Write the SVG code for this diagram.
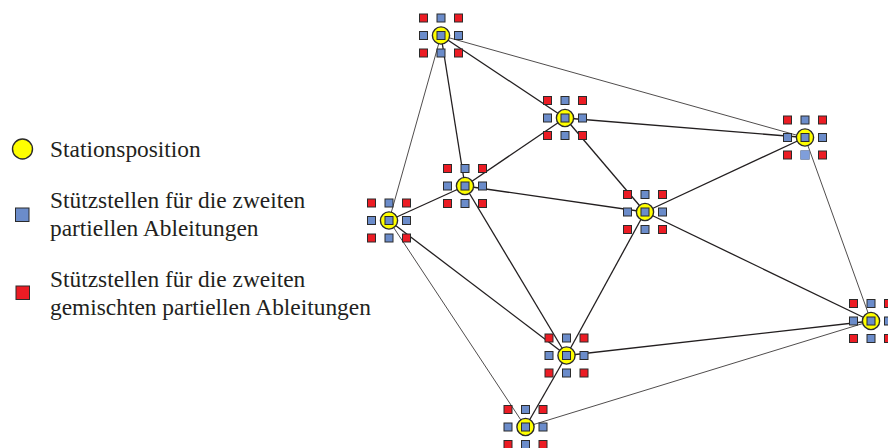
<svg xmlns="http://www.w3.org/2000/svg" xmlns:xlink="http://www.w3.org/1999/xlink" width="888" height="448" viewBox="0 0 888 448">
<style>
  .lbl { font-family: "Liberation Serif", "DejaVu Serif", serif; font-size: 23.4px; fill: #231f20; }
  .e { stroke: #231f20; stroke-width: 1.3; fill: none; }
  .t { stroke: #231f20; stroke-width: 0.8; fill: none; }
  .blue { fill: #6b8cca; stroke: #2b2b2b; stroke-width: 1; }
  .red { fill: #ec1c24; stroke: #2b2b2b; stroke-width: 1; }
  .stn { fill: #ffff00; stroke: #2b2b2b; stroke-width: 1.4; }
</style>
<defs>
  <g id="station">
    <rect class="red" x="-21.5" y="-21.5" width="8" height="8"/>
    <rect class="red" x="13.5" y="-21.5" width="8" height="8"/>
    <rect class="red" x="-21.5" y="13.5" width="8" height="8"/>
    <rect class="red" x="13.5" y="13.5" width="8" height="8"/>
    <rect class="blue" x="-4" y="-21.5" width="8" height="8"/>
    <rect class="blue" x="-21.5" y="-4" width="8" height="8"/>
    <rect class="blue" x="13.5" y="-4" width="8" height="8"/>
    <rect class="blue" x="-4" y="13.5" width="8" height="8"/>
    <circle class="stn" cx="0" cy="0" r="8.6"/>
    <rect class="blue" x="-4" y="-4" width="8" height="8"/>
  </g>
</defs>
<rect width="888" height="448" fill="#ffffff"/>
<g id="connectors">
  <line class="e" x1="441" y1="35.5" x2="565" y2="118"/>
  <line class="t" x1="441" y1="35.5" x2="805" y2="137.5"/>
  <line class="e" x1="441" y1="35.5" x2="465" y2="186"/>
  <line class="t" x1="441" y1="35.5" x2="389" y2="220.5"/>
  <line class="e" x1="565" y1="118" x2="805" y2="137.5"/>
  <line class="e" x1="565" y1="118" x2="465" y2="186"/>
  <line class="e" x1="565" y1="118" x2="645" y2="212"/>
  <line class="e" x1="805" y1="137.5" x2="645" y2="212"/>
  <line class="t" x1="805" y1="137.5" x2="871" y2="321"/>
  <line class="e" x1="465" y1="186" x2="645" y2="212"/>
  <line class="e" x1="465" y1="186" x2="389" y2="220.5"/>
  <line class="e" x1="465" y1="186" x2="566.5" y2="355.5"/>
  <line class="e" x1="645" y1="212" x2="871" y2="321"/>
  <line class="e" x1="645" y1="212" x2="566.5" y2="355.5"/>
  <line class="e" x1="389" y1="220.5" x2="566.5" y2="355.5"/>
  <line class="t" x1="389" y1="220.5" x2="525.5" y2="427"/>
  <line class="e" x1="566.5" y1="355.5" x2="871" y2="321"/>
  <line class="e" x1="566.5" y1="355.5" x2="525.5" y2="427"/>
  <line class="t" x1="525.5" y1="427" x2="871" y2="321"/>
</g>
<g id="n1"><use xlink:href="#station" x="441" y="35.5"/></g>
<g id="n2"><use xlink:href="#station" x="565" y="118"/></g>
<g id="n3"><use xlink:href="#station" x="805" y="137.5"/><rect x="800.5" y="150.5" width="9" height="9" fill="#7f9edb"/></g>
<g id="n4"><use xlink:href="#station" x="465" y="186"/></g>
<g id="n5"><use xlink:href="#station" x="645" y="212"/></g>
<g id="n6"><use xlink:href="#station" x="389" y="220.5"/></g>
<g id="n7"><use xlink:href="#station" x="871" y="321"/></g>
<g id="n8"><use xlink:href="#station" x="566.5" y="355.5"/></g>
<g id="n9"><use xlink:href="#station" x="525.5" y="427"/></g>
<g id="legend">
  <circle class="stn" cx="22.5" cy="149" r="10"/>
  <text class="lbl" x="50" y="157">Stationsposition</text>
  <rect class="blue" x="15.5" y="208" width="13.5" height="13.5" stroke-width="1.3"/>
  <text class="lbl" x="50" y="208">Stützstellen für die zweiten</text>
  <text class="lbl" x="50" y="236">partiellen Ableitungen</text>
  <rect class="red" x="16" y="286" width="13.5" height="13.5" stroke-width="1.3"/>
  <text class="lbl" x="50" y="287">Stützstellen für die zweiten</text>
  <text class="lbl" x="50" y="315">gemischten partiellen Ableitungen</text>
</g>
</svg>
